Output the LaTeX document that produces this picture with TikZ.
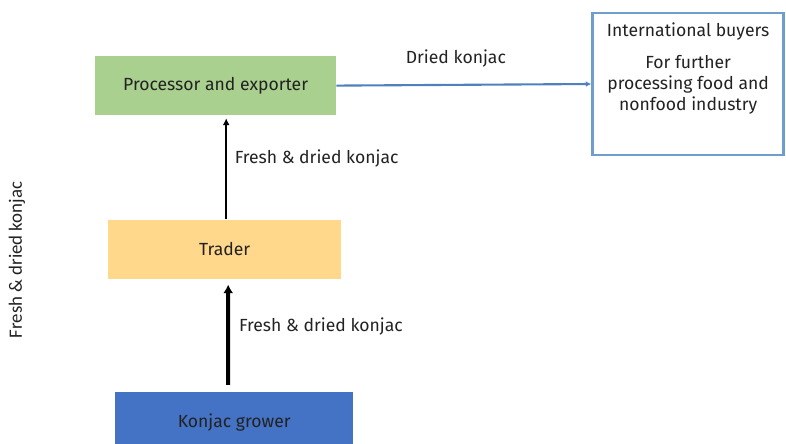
\documentclass[tikz,border=0pt]{standalone}
\usepackage{fontspec}
\setmainfont{Fira Sans}
\newfontfamily\sidefont{Carlito}
\usetikzlibrary{positioning,arrows.meta}
\definecolor{procgreen}{RGB}{169,208,142}
\definecolor{tradeorange}{RGB}{255,216,140}
\definecolor{growblue}{RGB}{68,114,196}
\definecolor{buyblue}{RGB}{110,158,204}
\definecolor{flowblue}{RGB}{79,129,189}
\definecolor{inktext}{RGB}{34,34,34}
\tikzstyle{block}=[rectangle, minimum height=1.475cm, text=inktext]

\begin{document}
\begin{tikzpicture}[font=\fontsize{12.5}{15}\selectfont]

        \clip (0,0) rectangle (19.65,-11.075);

        \node[block,
            fill=procgreen,
            minimum width=6.025cm] (processor) at (5.39,-2.14) {Processor and exporter};

        \node[block,
            fill=tradeorange,
            below=2.6cm of processor,
            xshift=0.225cm,
            minimum width=5.825cm] (trader) {Trader};

        \node[block,
            fill=growblue,
            below=2.825cm of trader,
            xshift=0.24cm,
            minimum width=5.95cm,
            minimum height=1.5cm] (grower) {Konjac grower};

        \node[draw=buyblue,
            line width=1.8pt,
            fill=white,
            text=inktext,
            right=6.375cm of processor,
            yshift=0.04cm,
            inner sep=0.1cm] (buyers) {\parbox[c][3.35cm][t]{4.575cm}{\centering
            \vspace*{4pt}
            International buyers\\[8pt]
            For further\\
            processing food and\\
            nonfood industry}};

        \node[rotate=90,
            text=inktext,
            font=\sidefont\fontsize{13.4}{16}\selectfont] (sidelabel) at (0.425,-6.5) {Fresh \& dried konjac};


% Arrows
        \draw[-{Latex[length=5pt,width=5pt]},line width=1.5pt] ([xshift=0.04cm]trader.north) -- ([xshift=0.04cm,yshift=-2pt]trader.north |- processor.south)
        node[pos=0.6,right=2pt,text=inktext]{Fresh \& dried konjac};

        \draw[-{Latex[length=6pt,width=7pt]},line width=2.8pt] ([xshift=-0.15cm,yshift=5pt]grower.north) -- ([xshift=0.09cm,yshift=-4pt]trader.south)
        node[pos=0.58,right=3pt,text=inktext]{Fresh \& dried konjac};

        \draw[-{Latex[length=4pt,width=4pt]},line width=1.5pt,flowblue] (processor.east) -- (buyers.west)
        node[midway,above=0.3cm,xshift=-0.2cm,text=inktext]{Dried konjac};

    \end{tikzpicture}
\end{document}
